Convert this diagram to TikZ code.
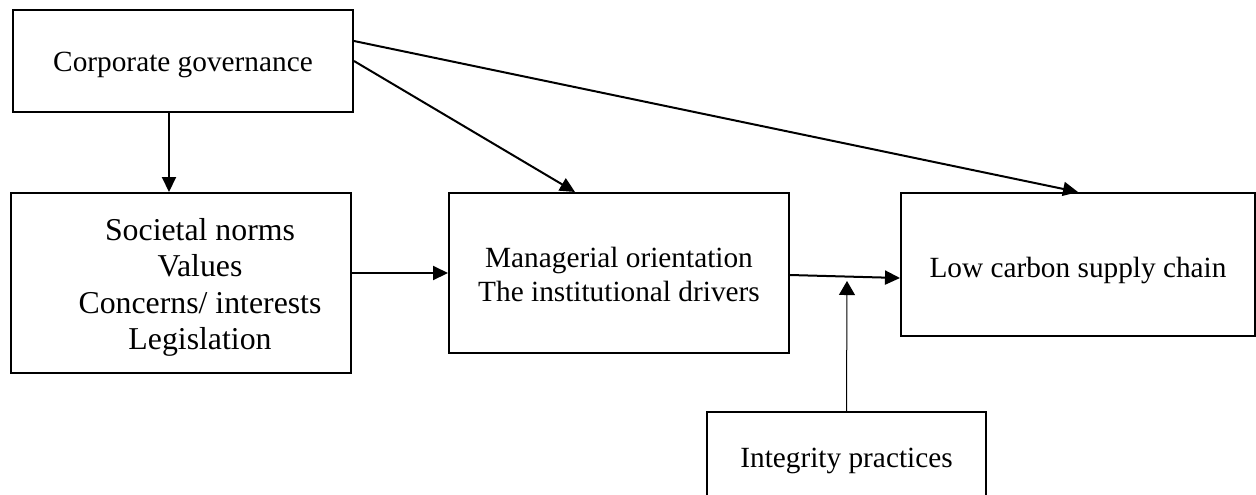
\documentclass[tikz,border=0pt]{standalone}
\usepackage{fontspec}
\setmainfont{Liberation Serif}
\usetikzlibrary{arrows.meta}
\begin{document}
\begin{tikzpicture}[x=0.5pt,y=-0.5pt,
  box/.style={draw, line width=1pt, inner sep=0pt, align=center,
    font=\fontsize{14.65pt}{17pt}\selectfont},
  arr/.style={line width=1pt, -{Triangle[length=7.5pt,width=7pt]}},
  thinarr/.style={line width=0.5pt, -{Triangle[length=7pt,width=8pt]}}]
\clip (0,0) rectangle (1256,494);
\fill[white] (0,0) rectangle (1256,494);
\node[box, minimum width=170pt, minimum height=51pt, text height=10.7pt, text depth=0pt] (cg) at (183,61) {Corporate governance};
\node[box, minimum width=170pt, minimum height=90pt, text height=0pt, text depth=43pt,
  font=\fontsize{15.9pt}{18.3pt}\selectfont] (soc) at (181,283)
  {\hspace{19pt}\begin{tabular}[t]{@{}c@{}}Societal norms\\Values\\Concerns/ interests\\Legislation\end{tabular}};
\node[box, minimum width=170pt, minimum height=80pt, text height=0pt, text depth=6pt] (mo) at (619,273)
  {\begin{tabular}[t]{@{}c@{}}Managerial orientation\\The institutional drivers\end{tabular}};
\node[box, minimum width=177pt, minimum height=71.5pt, text height=12.5pt, text depth=0pt] (lc) at (1078,264.5) {Low carbon supply chain};
\node[box, minimum width=139.5pt, minimum height=46pt, text height=9pt, text depth=0pt] (ip) at (846.5,458) {Integrity practices};
\coordinate (meet) at (847,281);
\draw[arr] ([xshift=-7pt]cg.south) -- ([xshift=-7pt]cg.south |- soc.north);
\draw[arr] (soc.east |- mo.west) -- (mo.west);
\draw[arr] (cg.east) -- ([xshift=-22pt]mo.north);
\draw[arr] ([yshift=10pt]cg.east) -- (lc.north);
\draw[arr] ([yshift=-1pt]mo.east) -- ([yshift=-6.75pt]lc.west);
\draw[thinarr] (ip.north) -- (meet);
\end{tikzpicture}
\end{document}
